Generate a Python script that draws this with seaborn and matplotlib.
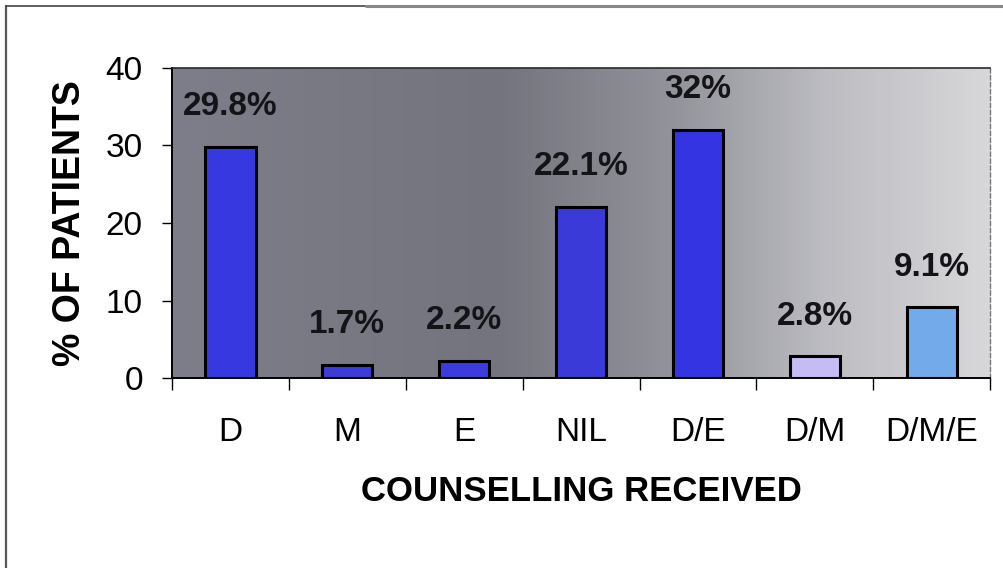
import numpy as np
import pandas as pd
import matplotlib
matplotlib.use("Agg")
import matplotlib.pyplot as plt
from matplotlib.colors import LinearSegmentedColormap
from matplotlib.lines import Line2D
import seaborn as sns

categories = ["D", "M", "E", "NIL", "D/E", "D/M", "D/M/E"]
values = [29.8, 1.7, 2.2, 22.1, 32.0, 2.8, 9.1]
yticks = [0, 10, 20, 30, 40]
bar_colors = ["#3838e0", "#3c3cd8", "#3c3cdc", "#3a3ad8", "#3434e2", "#c4bcf2", "#72aaea"]

sns.set_style("white")
plt.rcParams["font.family"] = ["Liberation Sans", "DejaVu Sans"]
plt.rcParams["text.color"] = "black"
plt.rcParams["axes.labelcolor"] = "black"
plt.rcParams["xtick.color"] = "black"
plt.rcParams["ytick.color"] = "black"

fig = plt.figure(figsize=(10.04, 5.68), dpi=100)
ax = fig.add_axes([0.1713, 0.3345, 0.815, 0.5458])

df = pd.DataFrame({"cat": categories, "val": values})

# background gradient (scanned grey texture approximation)
bg = LinearSegmentedColormap.from_list(
    "bg", [(0.0, "#7e7e8a"), (0.4, "#74747e"), (0.62, "#94949c"), (0.8, "#bcbcc2"), (1.0, "#d8d8da")])
grad = np.linspace(0, 1, 256).reshape(1, -1)
ax.imshow(grad, cmap=bg, aspect="auto", extent=(-0.5, 6.5, 0, 40), zorder=0)

sns.barplot(data=df, x="cat", y="val", hue="cat", palette=bar_colors, legend=False,
            width=0.43, edgecolor="black", linewidth=2.2, saturation=1, ax=ax, zorder=2)

ax.set_xlim(-0.5, 6.5)
ax.set_ylim(0, 40)
ax.set_yticks(yticks)
ax.set_yticklabels([str(t) for t in yticks])

for i, v in enumerate(values):
    ax.annotate(f"{v:g}%", xy=(i, v), xytext=(0, 29), textcoords="offset points",
                ha="center", va="center", fontsize=24, fontweight="bold",
                color="#141418", zorder=3)

ax.set_xticks(range(len(categories)))
ax.set_xticklabels(categories)
ax.set_xticks(np.arange(-0.5, 7.0, 1.0), minor=True)
ax.tick_params(axis="x", which="major", length=0, pad=28, labelsize=24, colors="black")
ax.tick_params(axis="x", which="minor", length=8.5, width=1.0, direction="out", color="black", bottom=True)
ax.tick_params(axis="y", which="major", length=7, width=1.0, direction="out", pad=14,
               labelsize=24, left=True, colors="black")

ax.set_xlabel("COUNSELLING RECEIVED", fontsize=25, fontweight="bold", color="black")
ax.set_ylabel("% OF PATIENTS", fontsize=27, fontweight="bold", color="black")
ax.xaxis.set_label_coords(0.5, -0.365)
ax.xaxis.label.set_va("center")
ax.yaxis.set_label_coords(-0.125, 0.5)
ax.yaxis.label.set_va("center")

for side in ["left", "bottom"]:
    ax.spines[side].set_color("black")
    ax.spines[side].set_linewidth(1.4)
ax.spines["top"].set_color("#2a2a2a")
ax.spines["top"].set_linewidth(1.2)
ax.spines["right"].set_color("#777777")
ax.spines["right"].set_linewidth(1.0)
ax.spines["right"].set_linestyle((0, (3, 2)))

# outer frame of the scanned figure
fig.add_artist(Line2D([0.006, 0.006], [0.0, 0.989], transform=fig.transFigure, color="#555555", lw=1.6))
fig.add_artist(Line2D([0.006, 0.365], [0.989, 0.989], transform=fig.transFigure, color="#444444", lw=1.2))
fig.add_artist(Line2D([0.365, 1.0], [0.989, 0.989], transform=fig.transFigure, color="#888888", lw=2.2))

fig.savefig("out.png", dpi=100, facecolor="white")
